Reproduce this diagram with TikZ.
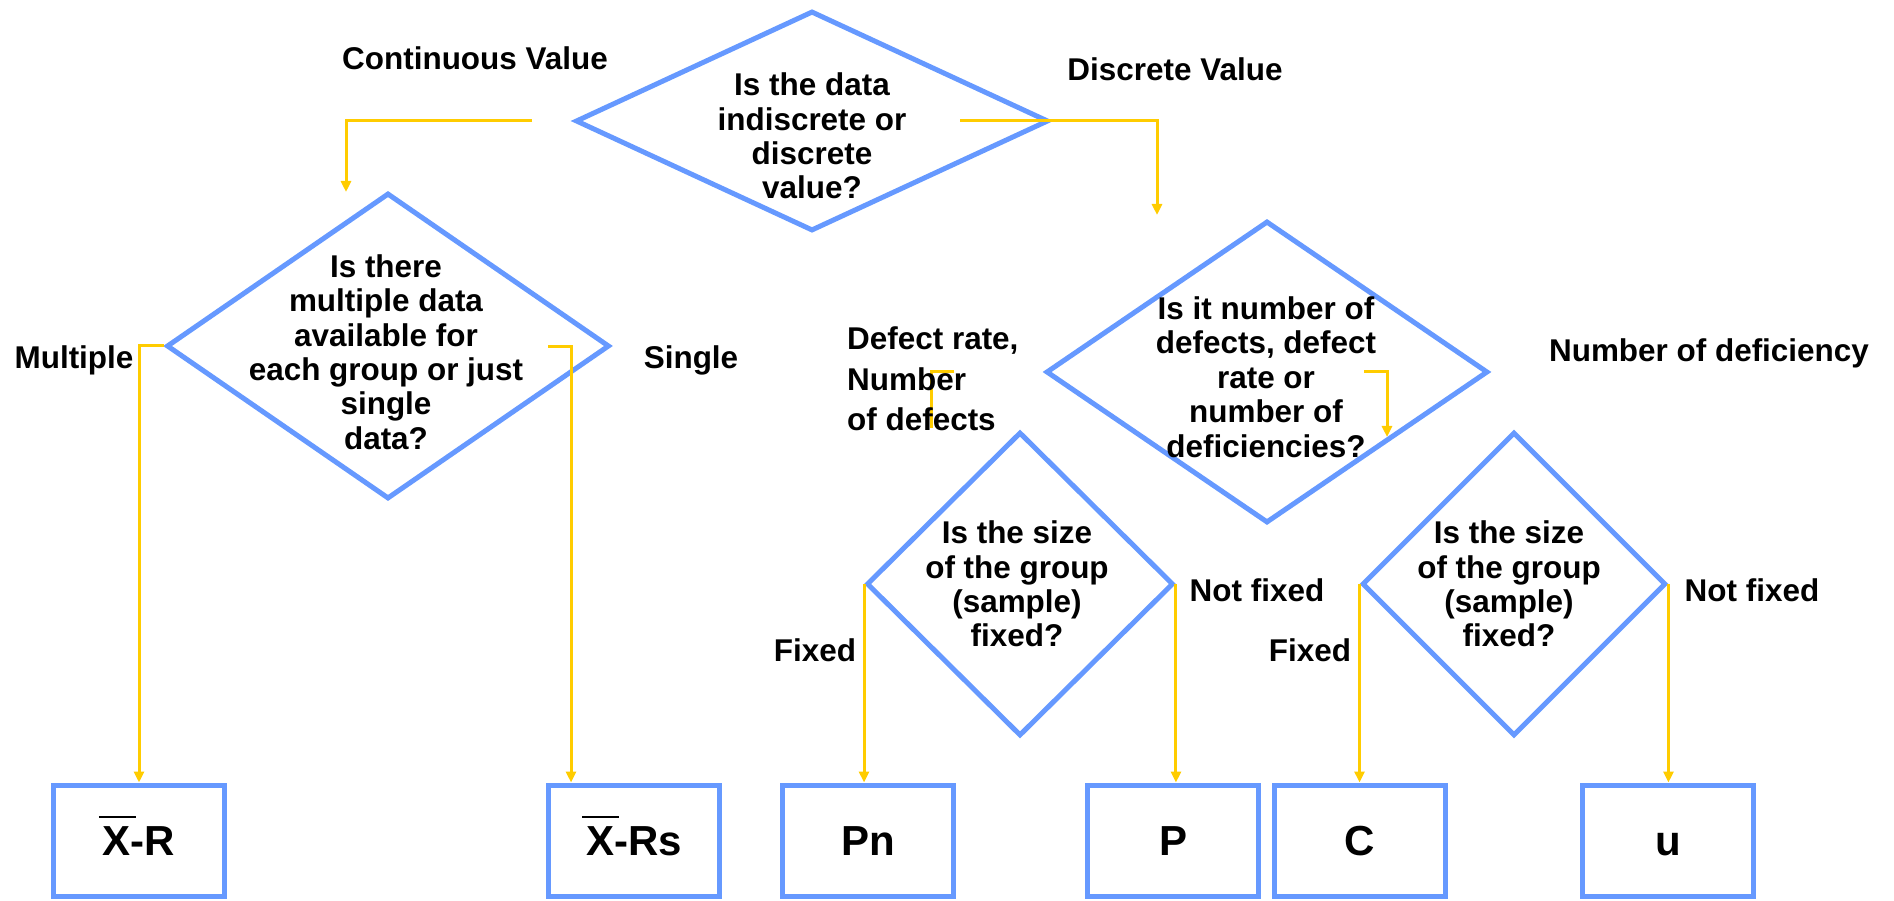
\documentclass[tikz,border=0pt]{standalone}
\usepackage{fontspec}
\setmainfont{Liberation Sans}
\usetikzlibrary{shapes.geometric,arrows.meta}
\definecolor{chartblue}{RGB}{102,153,255}
\definecolor{chartyellow}{RGB}{255,204,0}
\newcommand\xbar{\rlap{\smash{\kern-2.3pt\rule[21.5pt]{21pt}{1.4pt}}}X}

\begin{document}
\begin{tikzpicture}[x=0.02cm,y=-0.02cm]
            \tikzstyle{every node}=[font=\bfseries\fontsize{17.9}{19.6}\selectfont, text=black]
            \tikzstyle{decision}=[diamond, draw=chartblue, line width=0.1cm, inner sep=0pt]
            \tikzstyle{chart}=[rectangle, draw=chartblue, line width=0.1cm, minimum width=3.42cm, minimum height=2.24cm, text height=17pt, text depth=0pt, font=\bfseries\fontsize{23.9}{28}\selectfont]
            \tikzstyle{flow}=[chartyellow, line width=0.06cm, -{Triangle[width=0.2cm,length=0.22cm]}]
            \tikzstyle{question}=[align=center]

            \useasboundingbox (0,0) rectangle (1894,901);

            \node[decision, minimum width=9.46cm, minimum height=4.4cm] (kind) at (812,121) {};
            \node[decision, minimum width=8.86cm, minimum height=6.12cm] (group) at (388,346) {};
            \node[decision, minimum width=8.84cm, minimum height=6.04cm] (defect) at (1267,372) {};
            \node[decision, minimum width=6.14cm, minimum height=6.08cm] (sizea) at (1020,584) {};
            \node[decision, minimum width=6.08cm, minimum height=6.08cm] (sizeb) at (1514,584) {};

            \node[chart] (xr) at (139,841) {\xbar-R};
            \node[chart] (xrs) at (634,841) {\xbar-Rs};
            \node[chart] (pn) at (868,841) {Pn};
            \node[chart] (p) at (1173,841) {P};
            \node[chart] (c) at (1360,841) {C};
            \node[chart] (u) at (1668,841) {u};

            \coordinate (contstart) at (532,121);
            \coordinate (contend) at (346,192);
            \coordinate (discstart) at (960,121);
            \coordinate (discend) at (1157,215);
            \coordinate (singlestart) at (548,347);
            \coordinate (ratestart) at (954,372);
            \coordinate (rateend) at (931,428);
            \coordinate (deficstart) at (1364,372);
            \coordinate (deficend) at (1387,437);

            \draw[flow] (contstart) -| (contend);
            \draw[flow] (discstart) -| (discend);
            \draw[flow] (group.west) -| (xr.north);
            \draw[flow] (singlestart) -| ([xshift=0.5cm]xrs.north west);
            \draw[flow, -] (ratestart) -| (rateend);
            \draw[flow] (deficstart) -| (deficend);
            \draw[flow] (sizea.west) -- (sizea.west |- pn.north);
            \draw[flow] (sizea.east) -- (sizea.east |- p.north);
            \draw[flow] (sizeb.west) -- (sizeb.west |- c.north);
            \draw[flow] (sizeb.east) -- (sizeb.east |- u.north);

            \node[question] (kindq) at (812,136) {Is the data\\indiscrete or\\discrete\\value?};
            \node[question] (groupq) at (386,352) {Is there\\multiple data\\available for\\each group or just\\single\\data?};
            \node[question] (defectq) at (1266,377) {Is it number of\\defects, defect\\rate or\\number of\\deficiencies?};
            \node[question] (sizeaq) at (1017,584) {Is the size\\of the group\\(sample)\\fixed?};
            \node[question] (sizebq) at (1509,584) {Is the size\\of the group\\(sample)\\fixed?};

            \node (cont) at (475,58) {Continuous Value};
            \node (disc) at (1175,69) {Discrete Value};
            \node (multi) at (74,360) {Multiple};
            \node (single) at (691,360) {Single};
            \node[align=left, anchor=west, font=\bfseries\fontsize{17.9}{23.2}\selectfont] (rate) at (841,379) {Defect rate,\\Number\\of defects};
            \node (defic) at (1709,353) {Number of deficiency};
            \node (fixeda) at (815,650) {Fixed};
            \node (notfixeda) at (1257,590) {Not fixed};
            \node (fixedb) at (1310,650) {Fixed};
            \node (notfixedb) at (1752,590) {Not fixed};
\end{tikzpicture}
\end{document}
